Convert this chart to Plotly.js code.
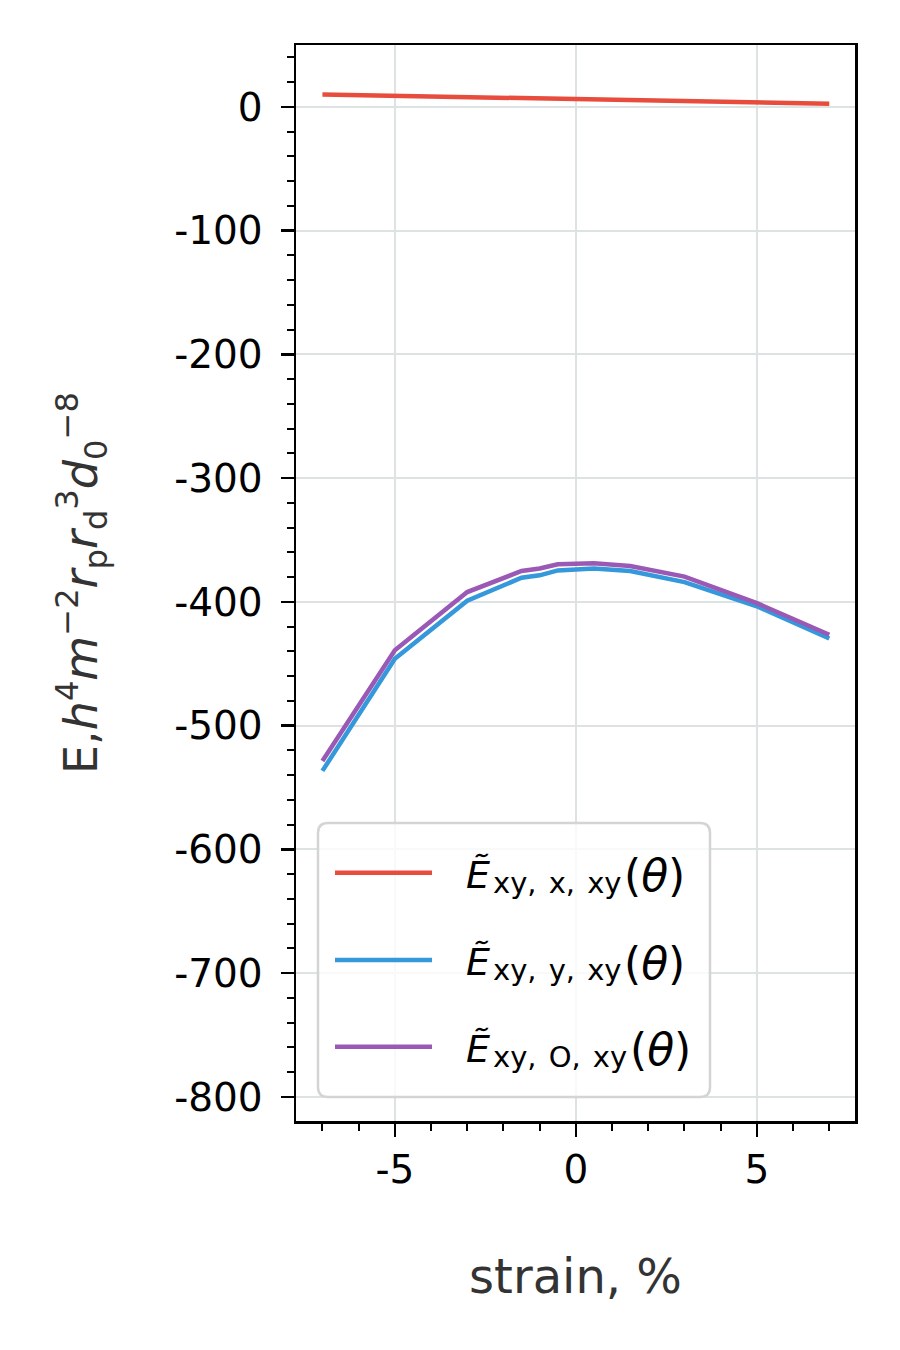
<!DOCTYPE html>
<html>
<head>
<meta charset="utf-8">
<script src="https://cdn.plot.ly/plotly-3.0.1.min.js"></script>
<style>html,body{margin:0;padding:0;background:#fff;}#chart{width:900px;height:1350px;}</style>
</head>
<body>
<div id="chart"></div>
<script>
// strain, %
const strain = [-7, -5, -3, -1.5, -1, -0.5, 0.5, 1.5, 3, 5, 7];
// series values
const E_xy_x_xy = [10, 8.9, 7.9, 7.1, 6.8, 6.6, 6.0, 5.5, 4.7, 3.6, 2.6];
const E_xy_y_xy = [-536.5, -446, -399, -380.5, -378.5, -374.5, -373, -375, -384, -403.5, -429.5];
const E_xy_O_xy = [-528.5, -439, -392, -375, -373, -369.5, -368.8, -371, -379.5, -401, -426.5];

// legend label parts: Ẽ_{sub}(θ)
const SP = "\u00A0\u200A";
const subLabels = ["xy," + SP + "x," + SP + "xy", "xy," + SP + "y," + SP + "xy", "xy," + SP + "O," + SP + "xy"];
const seriesNames = subLabels.map(s => "<i>Ẽ</i><sub>" + s + "</sub>(<i>θ</i>)");
const seriesColors = ["#e74c3c", "#3498db", "#9b59b6"];
const seriesData = [E_xy_x_xy, E_xy_y_xy, E_xy_O_xy];

// tick labels
const xTickVals = [-5, 0, 5];
const xTickText = ["-5", "0", "5"];
const yTickVals = [0, -100, -200, -300, -400, -500, -600, -700, -800];
const yTickText = ["0", "-100", "-200", "-300", "-400", "-500", "-600", "-700", "-800"];

const traces = seriesData.map((ys, i) => ({
  x: strain, y: ys, type: "scatter", mode: "lines",
  name: seriesNames[i],
  line: {color: seriesColors[i], width: 4.5},
  showlegend: false
}));

// plot-area pixel frame, used to place the custom legend
const PX = {left: 296, right: 855, top: 45, bottom: 1121};
const px2x = p => (p - PX.left) / (PX.right - PX.left);
const px2y = p => (PX.bottom - p) / (PX.bottom - PX.top);

// custom legend (matplotlib style)
const L = {x0: px2x(318), x1: px2x(710), y0: px2y(1097), y1: px2y(823)};
const rx = 10 / 559, ry = 10 / 1076;
const boxPath = `M${L.x0 + rx},${L.y1} L${L.x1 - rx},${L.y1} Q${L.x1},${L.y1} ${L.x1},${L.y1 - ry} ` +
  `L${L.x1},${L.y0 + ry} Q${L.x1},${L.y0} ${L.x1 - rx},${L.y0} L${L.x0 + rx},${L.y0} ` +
  `Q${L.x0},${L.y0} ${L.x0},${L.y0 + ry} L${L.x0},${L.y1 - ry} Q${L.x0},${L.y1} ${L.x0 + rx},${L.y1} Z`;
const rowPx = [872.7, 960, 1046.7];
const thetaPx = [623, 623, 629];
const shapes = [{
  type: "path", xref: "paper", yref: "paper", path: boxPath, layer: "above",
  fillcolor: "rgba(255,255,255,0.8)", line: {color: "#d4d4d4", width: 2.5}
}];
const annotations = [];
const midFromBaseline = (base, size) => base - 0.346 * size;
rowPx.forEach((ry0, i) => {
  shapes.push({type: "line", xref: "paper", yref: "paper", layer: "above",
    x0: px2x(335), x1: px2x(432), y0: px2y(ry0), y1: px2y(ry0), line: {color: seriesColors[i], width: 4.5}});
  const common = {xref: "paper", yref: "paper", xanchor: "left", yanchor: "middle", showarrow: false, borderpad: 0};
  annotations.push(Object.assign({}, common, {x: px2x(465), y: px2y(midFromBaseline(ry0 + 15.5, 38)),
    text: "<i>Ẽ</i>", font: {family: "DejaVu Sans", size: 38, color: "#000"}}));
  annotations.push(Object.assign({}, common, {x: px2x(492), y: px2y(midFromBaseline(ry0 + 20.5, 29)),
    text: subLabels[i], font: {family: "DejaVu Sans", size: 29, color: "#000"}}));
  annotations.push(Object.assign({}, common, {x: px2x(thetaPx[i]), y: px2y(midFromBaseline(ry0 + 18.5, 44)),
    text: "(<i>θ</i>)", font: {family: "DejaVu Sans", size: 44, color: "#000"}}));
});

const gridColor = "#dde2e2";
const layout = {
  width: 900, height: 1350,
  margin: {l: 296, r: 45, t: 45, b: 229, pad: 0},
  paper_bgcolor: "#fff", plot_bgcolor: "#fff",
  font: {family: "DejaVu Sans", color: "#000"},
  showlegend: false,
  xaxis: {
    range: [-7.73, 7.71], autorange: false,
    tickmode: "array", tickvals: xTickVals, ticktext: xTickText,
    ticks: "outside", ticklen: 13, tickwidth: 2.5, tickcolor: "#000",
    tickfont: {size: 39, color: "#000"},
    showline: true, linecolor: "#000", linewidth: 2.5, mirror: true,
    showgrid: true, gridcolor: gridColor, gridwidth: 2, zeroline: false,
    minor: {dtick: 1, tick0: 0, ticks: "outside", ticklen: 7, tickwidth: 2, tickcolor: "#000", showgrid: false},
    title: {text: "strain, %", font: {size: 48, color: "#333"}, standoff: 68},
    automargin: false
  },
  yaxis: {
    range: [-819.4, 50], autorange: false,
    tickmode: "array", tickvals: yTickVals, ticktext: yTickText,
    ticks: "outside", ticklen: 13, tickwidth: 2.5, tickcolor: "#000",
    tickfont: {size: 39, color: "#000"},
    ticklabelstandoff: 10,
    showline: true, linecolor: "#000", linewidth: 2.5, mirror: true,
    showgrid: true, gridcolor: gridColor, gridwidth: 2, zeroline: false,
    minor: {dtick: 20, tick0: 0, ticks: "outside", ticklen: 7, tickwidth: 2, tickcolor: "#000", showgrid: false},
    title: {text: "E,<i>h</i><sup>4</sup><i>m</i><sup>−2</sup><i>r</i><sub>p</sub><i>r</i><sub>d</sub><sup>3</sup><i>d</i><sub>0</sub><sup>−8</sup>",
      font: {size: 46, color: "#333"}, standoff: 62},
    automargin: false
  },
  shapes: shapes,
  annotations: annotations
};

Plotly.newPlot("chart", traces, layout, {displayModeBar: false, staticPlot: true});
</script>
</body>
</html>
